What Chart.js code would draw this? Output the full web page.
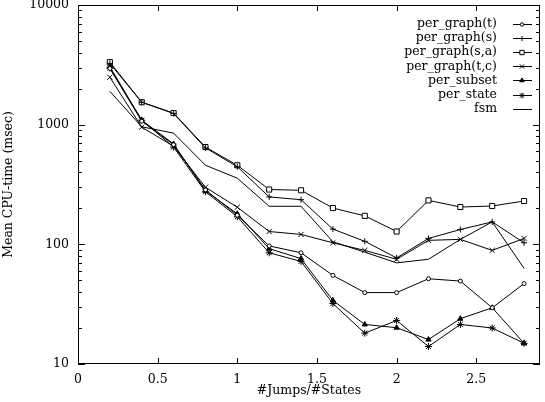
<!DOCTYPE html>
<html>
<head>
<meta charset="utf-8">
<script src="https://cdn.jsdelivr.net/npm/chart.js@4/dist/chart.umd.min.js"></script>
<style>
  html, body { margin: 0; padding: 0; background: #fff; }
  canvas { display: block; }
</style>
</head>
<body>
<canvas id="cpuChart" width="545" height="402"></canvas>
<script>
// ===== DATA =====
const jumpsPerState = [0.2, 0.4, 0.6, 0.8, 1.0, 1.2, 1.4, 1.6, 1.8, 2.0, 2.2, 2.4, 2.6, 2.8];

const perGraphT  = [2950, 1070, 680, 285, 175, 97, 85, 55, 39.5, 39.5, 51.6, 49.3, 29.5, 47];
const perGraphS  = [3250, 1540, 1240, 640, 445, 249, 236, 134, 106, 77, 112, 133, 154, 103];
const perGraphSA = [3330, 1540, 1250, 650, 458, 287, 283, 201, 173, 128, 233, 205, 209, 230];
const perGraphTC = [2490, 953, 660, 300, 204, 128, 121, 103, 89, 75, 108, 110, 89, 112];
const perSubset  = [3050, 1090, 690, 280, 180, 92, 76, 34, 21.4, 20.1, 16, 23.9, 29.5, 14.9];
const perState   = [2970, 1090, 650, 275, 170, 85, 72, 32, 18.1, 23.1, 14, 21.4, 20, 14.9];
const fsm        = [1900, 960, 850, 458, 357, 208, 208, 105, 86, 70, 75, 110, 154, 63];

const xTicks = [0, 0.5, 1, 1.5, 2, 2.5];
const yMajorTicks = [10, 100, 1000, 10000];

const FONT = { family: '"DejaVu Serif", serif', size: 12.5 };

function pts(ys) {
  return ys.map((v, i) => ({ x: jumpsPerState[i], y: v }));
}

function series(label, ys, style, radius, fillColor) {
  return {
    label: label,
    data: pts(ys),
    borderColor: '#000',
    borderWidth: 1,
    pointStyle: style,
    pointRadius: style ? radius : 0,
    pointBorderColor: '#000',
    pointBorderWidth: 1,
    pointBackgroundColor: fillColor || '#fff',
    tension: 0,
    fill: false
  };
}

// gnuplot-like inward ticks, full frame and key drawn with the dataset styles
const gnuFrame = {
  id: 'gnuFrame',
  afterDraw(chart) {
    const ctx = chart.ctx, a = chart.chartArea;
    const xs = chart.scales.x, ys = chart.scales.y;
    ctx.save();
    ctx.strokeStyle = '#000';
    ctx.lineWidth = 1;
    ctx.beginPath();
    ys.ticks.forEach(t => {
      const y = Math.round(ys.getPixelForValue(t.value)) + 0.5;
      const len = yMajorTicks.includes(t.value) ? 7 : 4;
      ctx.moveTo(a.left, y); ctx.lineTo(a.left + len, y);
      ctx.moveTo(a.right, y); ctx.lineTo(a.right - len, y);
    });
    xs.ticks.forEach(t => {
      const x = Math.round(xs.getPixelForValue(t.value)) + 0.5;
      ctx.moveTo(x, a.bottom); ctx.lineTo(x, a.bottom - 6);
      ctx.moveTo(x, a.top); ctx.lineTo(x, a.top + 6);
    });
    ctx.stroke();
    ctx.strokeRect(Math.round(a.left) + 0.5, Math.round(a.top) + 0.5,
                   Math.round(a.right - a.left) - 1, Math.round(a.bottom - a.top) - 1);

    // key
    ctx.font = FONT.size + 'px ' + FONT.family;
    ctx.fillStyle = '#000';
    ctx.textAlign = 'right';
    ctx.textBaseline = 'middle';
    chart.data.datasets.forEach((ds, i) => {
      const y = 24 + i * 14.1;
      ctx.fillText(ds.label, 497, y);
      ctx.beginPath();
      ctx.moveTo(513, Math.round(y) + 0.5);
      ctx.lineTo(532, Math.round(y) + 0.5);
      ctx.stroke();
      if (ds.pointStyle) {
        ctx.fillStyle = ds.pointBackgroundColor;
        Chart.helpers.drawPoint(ctx, {
          pointStyle: ds.pointStyle, radius: ds.pointRadius * 0.85, rotation: 0, borderWidth: 1
        }, 522, Math.round(y) + 0.5);
        ctx.fillStyle = '#000';
      }
    });
    ctx.restore();
  }
};

new Chart(document.getElementById('cpuChart'), {
  type: 'line',
  data: {
    datasets: [
      series('per_graph(t)', perGraphT, 'circle', 2),
      series('per_graph(s)', perGraphS, 'cross', 3),
      series('per_graph(s,a)', perGraphSA, 'rect', 3.6),
      series('per_graph(t,c)', perGraphTC, 'crossRot', 3.6),
      series('per_subset', perSubset, 'triangle', 3, '#000'),
      series('per_state', perState, 'star', 3.5),
      series('fsm', fsm, false, 0)
    ]
  },
  options: {
    responsive: false,
    animation: false,
    layout: { padding: { top: 5, right: 2, left: 0, bottom: 0 } },
    plugins: {
      legend: { display: false },
      tooltip: { enabled: false }
    },
    scales: {
      x: {
        type: 'linear',
        min: 0,
        max: 2.9,
        grid: { display: false, drawTicks: false },
        border: { display: false },
        afterBuildTicks: s => { s.ticks = xTicks.map(v => ({ value: v })); },
        afterFit: s => { s.height = 38; s.paddingLeft = 0; s.paddingRight = 0; },
        ticks: { color: '#000', font: FONT, padding: 8, maxRotation: 0, autoSkip: false,
                 callback: v => String(v) },
        title: { display: true, text: '#Jumps/#States', color: '#000', font: FONT,
                 padding: { top: 0, bottom: 4 } }
      },
      y: {
        type: 'logarithmic',
        min: 10,
        max: 10000,
        grid: { display: false, drawTicks: false },
        border: { display: false },
        afterBuildTicks: s => {
          const t = [];
          yMajorTicks.forEach((p, i) => {
            if (i === yMajorTicks.length - 1) { t.push({ value: p }); return; }
            for (let k = 1; k < 10; k++) t.push({ value: p * k });
          });
          s.ticks = t;
        },
        afterFit: s => { s.width = 78; s.paddingTop = 0; s.paddingBottom = 0; },
        ticks: { color: '#000', font: FONT, padding: 9, autoSkip: false,
                 callback: v => yMajorTicks.includes(v) ? String(v) : '' },
        title: { display: true, text: 'Mean CPU-time (msec)', color: '#000', font: FONT,
                 padding: { top: 1, bottom: 0 } }
      }
    }
  },
  plugins: [gnuFrame]
});
</script>
</body>
</html>
